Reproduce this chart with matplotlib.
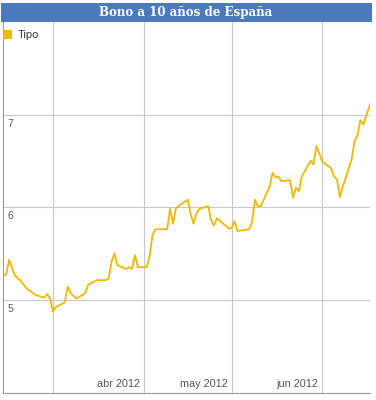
import matplotlib
matplotlib.use("Agg")
import matplotlib.pyplot as plt
import matplotlib.dates as mdates
import pandas as pd
from matplotlib.patches import Rectangle

# data (approximate trading days)
fechas = ["2012-02-13", "2012-02-14", "2012-02-15", "2012-02-17", "2012-02-19",
          "2012-02-21", "2012-02-24", "2012-02-27", "2012-02-28", "2012-02-29",
          "2012-03-01", "2012-03-02", "2012-03-05", "2012-03-06", "2012-03-07",
          "2012-03-09", "2012-03-12", "2012-03-13", "2012-03-16", "2012-03-19",
          "2012-03-20", "2012-03-21", "2012-03-22", "2012-03-23", "2012-03-26",
          "2012-03-27", "2012-03-28", "2012-03-29", "2012-03-30", "2012-04-02",
          "2012-04-03", "2012-04-04", "2012-04-05", "2012-04-09", "2012-04-10",
          "2012-04-11", "2012-04-12", "2012-04-16", "2012-04-17", "2012-04-18",
          "2012-04-19", "2012-04-20", "2012-04-23", "2012-04-24", "2012-04-25",
          "2012-04-26", "2012-04-30", "2012-05-01", "2012-05-02", "2012-05-03",
          "2012-05-07", "2012-05-08", "2012-05-09", "2012-05-10", "2012-05-11",
          "2012-05-14", "2012-05-15", "2012-05-16", "2012-05-17", "2012-05-18",
          "2012-05-21", "2012-05-22", "2012-05-23", "2012-05-24", "2012-05-25",
          "2012-05-28", "2012-05-29", "2012-05-30", "2012-05-31", "2012-06-01",
          "2012-06-04", "2012-06-05", "2012-06-06", "2012-06-07", "2012-06-08",
          "2012-06-11", "2012-06-12", "2012-06-13", "2012-06-14", "2012-06-15",
          "2012-06-18"]
tipo = [5.26, 5.27, 5.43, 5.26, 5.20, 5.12, 5.05, 5.02, 5.06, 5.01,
        4.87, 4.92, 4.97, 5.14, 5.07, 5.01, 5.07, 5.16, 5.21, 5.21,
        5.23, 5.41, 5.50, 5.37, 5.33, 5.35, 5.33, 5.48, 5.35, 5.35,
        5.47, 5.70, 5.76, 5.76, 5.98, 5.82, 5.99, 6.08, 5.93, 5.82,
        5.93, 5.98, 6.01, 5.86, 5.80, 5.88, 5.77, 5.77, 5.85, 5.74,
        5.76, 5.84, 6.08, 6.01, 6.01, 6.22, 6.37, 6.32, 6.33, 6.28,
        6.29, 6.10, 6.21, 6.17, 6.33, 6.50, 6.46, 6.66, 6.58, 6.49,
        6.42, 6.33, 6.30, 6.11, 6.22, 6.51, 6.71, 6.77, 6.94, 6.89,
        7.17]
meses = ["2012-03-01", "2012-04-01", "2012-05-01", "2012-06-01"]
etiquetas_mes = ["", "abr 2012", "may 2012", "jun 2012"]
y_ticks = [5, 6, 7]

titulo = "Bono a 10 años de España"
amarillo = "#f0b900"
gris = "#c8c8c8"

fechas = pd.to_datetime(fechas)
meses = pd.to_datetime(meses)

fig = plt.figure(figsize=(3.76, 4.0), dpi=100)

# title bar
fig.patches.append(Rectangle((1 / 376, 1 - 22 / 400), 371 / 376, 19 / 400,
                             transform=fig.transFigure, facecolor="#4a79bd",
                             edgecolor="none"))
fig.text(186 / 376, 1 - 12.5 / 400, titulo, ha="center", va="center",
         color="white", fontsize=8.6, fontweight="bold", family="DejaVu Serif")

ax = fig.add_axes([3 / 376, 7 / 400, 367 / 376, 371 / 400])
ax.plot(fechas, tipo, color=amarillo, linewidth=1.3, solid_joinstyle="round")

x0 = mdates.date2num(pd.Timestamp("2012-03-01"))
ax.set_xlim(x0 - 17.1, x0 + 108.3)
ax.set_ylim(3.99, 8.0)

for m in meses:
    ax.axvline(m, color=gris, linewidth=0.8, zorder=0)
for v in y_ticks:
    ax.axhline(v, color=gris, linewidth=0.8, zorder=0)
    ax.text(0.012, v - 0.1, str(v), transform=ax.get_yaxis_transform(),
            ha="left", va="center", fontsize=7.5, color="#555555",
            family="Liberation Sans")

for m, lab in zip(meses, etiquetas_mes):
    ax.text(mdates.date2num(m) - 1.3, 4.09, lab, ha="right", va="center",
            fontsize=7.8, color="#555555", family="Liberation Sans")

ax.set_xticks([])
ax.set_yticks([])
for s in ["top", "right"]:
    ax.spines[s].set_visible(False)
for s in ["left", "bottom"]:
    ax.spines[s].set_color("#999999")
    ax.spines[s].set_linewidth(0.8)

# legend
fig.patches.append(Rectangle((3 / 376, 1 - 39 / 400), 9 / 376, 9 / 400,
                             transform=fig.transFigure, facecolor=amarillo,
                             edgecolor="none"))
fig.text(18 / 376, 1 - 34.5 / 400, "Tipo", ha="left", va="center", fontsize=8,
         color="#333333", family="Liberation Sans")

fig.savefig("out.png", dpi=100)
